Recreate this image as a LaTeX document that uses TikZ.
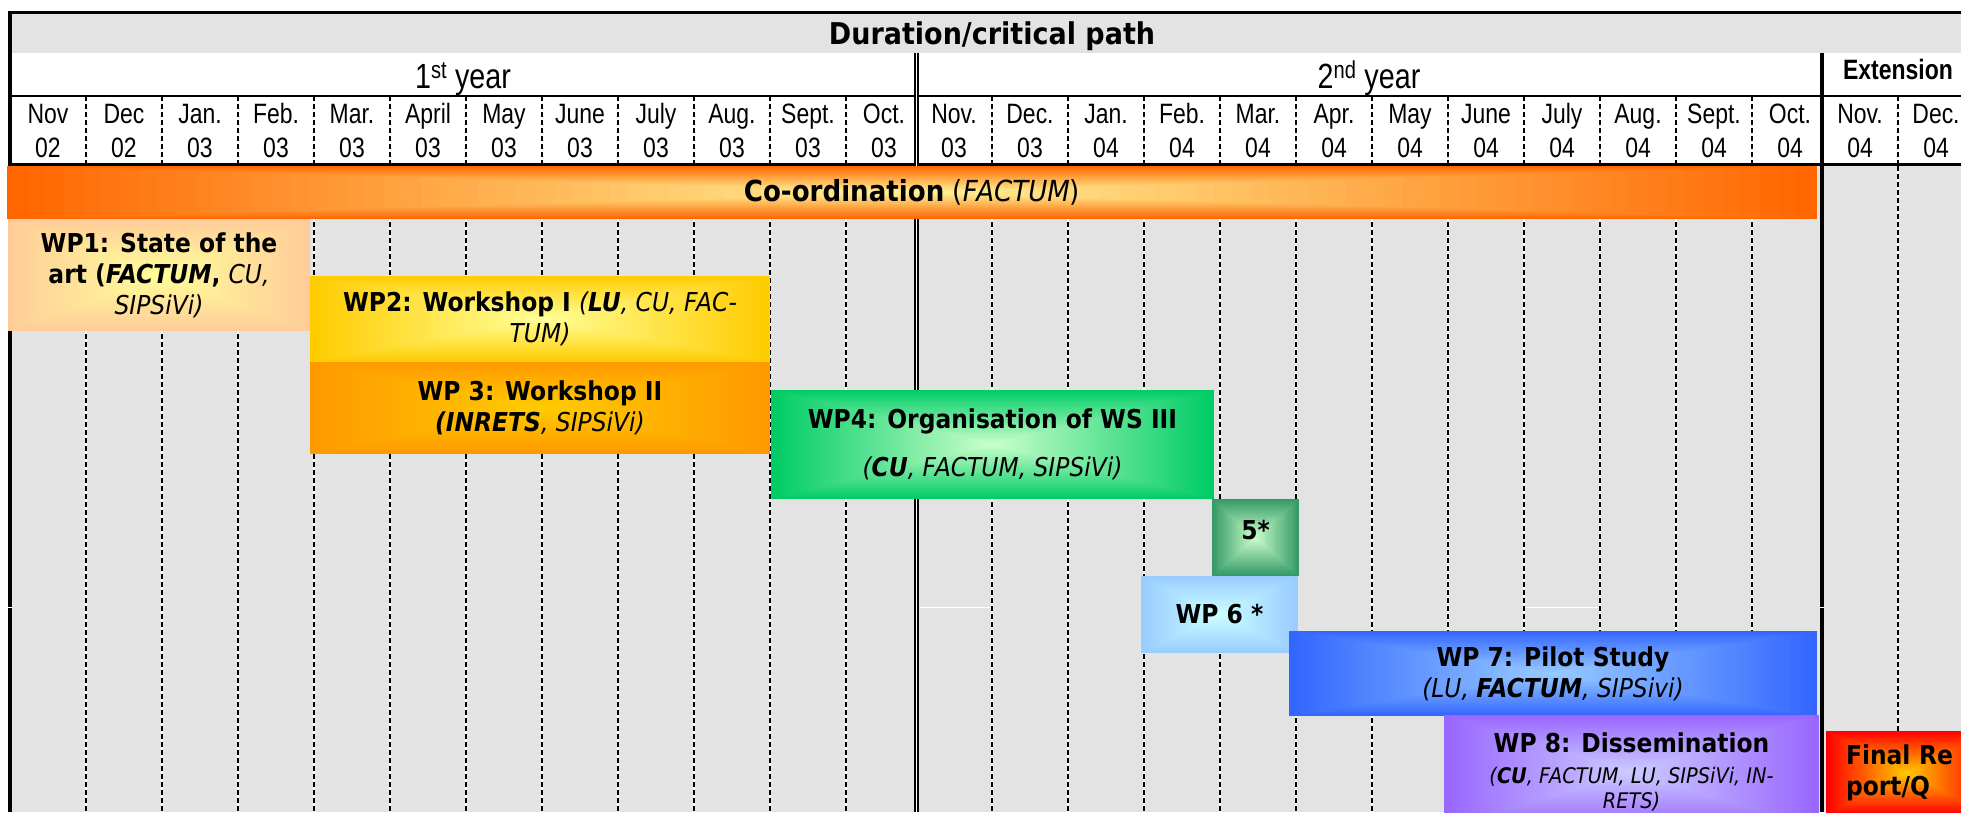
\documentclass[tikz,border=0pt]{standalone}
\usepackage{fontspec}
\newfontfamily\wpfont[FakeStretch=0.9,
  BoldFont={DejaVu Sans Bold},
  ItalicFont={DejaVu Sans Oblique},
  BoldItalicFont={DejaVu Sans Bold Oblique}]{DejaVu Sans}
\newfontfamily\narrowfont[FakeStretch=0.82]{Liberation Sans}
\usetikzlibrary{calc}

\definecolor{gridgray}{HTML}{E3E3E3}
\definecolor{coordout}{HTML}{FF6600}
\definecolor{coordin}{HTML}{FFF599}
\definecolor{peach}{HTML}{FFCC99}
\definecolor{paleyellow}{HTML}{FFFF99}
\definecolor{gold}{HTML}{FFCC00}
\definecolor{amber}{HTML}{FF9900}
\definecolor{wsgreen}{HTML}{00CC66}
\definecolor{mint}{HTML}{CCFFCC}
\definecolor{seagreen}{HTML}{339966}
\definecolor{skyblue}{HTML}{99CCFF}
\definecolor{paleblue}{HTML}{CCFFFF}
\definecolor{royalblue}{HTML}{3366FF}
\definecolor{violet}{HTML}{9966FF}
\definecolor{lavender}{HTML}{CCCCFF}
\definecolor{reportred}{HTML}{FF0000}

% partners: lead partner bold italic, others plain italic
\newcommand\wplead[1]{{\bfseries\itshape #1}}
\newcommand\wpteam[1]{{\mdseries\itshape #1}}

\tikzset{
  % rectangular gradient, outer colour at the edges, inner colour in the middle
  wpshade/.style 2 args={fill=#1, path picture={
      \foreach \i in {0,...,48}{
        \pgfmathsetmacro\s{1-\i/48}
        \pgfmathsetmacro\p{\i*100/48}
        \fill[#2!\p!#1]
          ($(path picture bounding box.center)!\s!(path picture bounding box.south west)$)
          rectangle
          ($(path picture bounding box.center)!\s!(path picture bounding box.north east)$);
      }}},
  wpbox/.style={inner sep=0pt, align=center, font=\wpfont\bfseries\fontsize{26}{31}\selectfont},
  monthlabel/.style={anchor=base, inner sep=0pt, font=\narrowfont\fontsize{28}{34}\selectfont},
  yearlabel/.style={anchor=base, inner sep=0pt, font=\narrowfont\fontsize{35}{40}\selectfont},
  monthline/.style={line width=2pt, dash pattern=on 5pt off 3pt},
}

\begin{document}
\begin{tikzpicture}[x=1pt,y=-1pt]
  \useasboundingbox (0,0) rectangle (1961,812);
  \clip (0,0) rectangle (1961,812);
  \fill[white] (0,0) rectangle (1961,812);

  % grey title band and chart area
  \fill[gridgray] (12,14) rectangle (1961,53);
  \fill[gridgray] (12,166) rectangle (1961,812);

  % month separators
  \foreach \x in {86,162,...,846,992,1068,...,1752,1898}{
    \draw[white, line width=2pt] (\x,166) -- (\x,812);
    \draw[monthline] (\x,96) -- (\x,163);
    \draw[monthline] (\x,166) -- (\x,812);
  }
  \draw[white, line width=1pt] (920,607) -- (991,607);
  \draw[white, line width=1pt] (1525,607) -- (1599,607);

  % frame
  \draw[line width=3pt] (8,12.5) -- (1961,12.5);
  \draw[line width=2pt] (12,96) -- (1961,96);
  \draw[line width=3pt] (8,164.5) -- (1961,164.5);
  \draw[line width=4pt] (10,11) -- (10,812);
  \draw[white, line width=5pt] (916.6,53) -- (916.6,812);
  \draw[line width=1.8pt] (915,53) -- (915,812);
  \draw[line width=1.8pt] (918.2,53) -- (918.2,812);
  \draw[line width=4pt] (1822,53) -- (1822,812);
  \draw[white, line width=1pt] (8,607) -- (12,607);
  \draw[white, line width=1pt] (1820,607) -- (1824,607);

  % header
  \node[anchor=base, inner sep=0pt, font=\wpfont\bfseries\fontsize{30}{36}\selectfont] (title) at (992,44) {Duration/critical path};
  \node[yearlabel] (year1) at (463,88) {1\textsuperscript{st} year};
  \node[yearlabel] (year2) at (1369,88) {2\textsuperscript{nd} year};
  \node[yearlabel, font=\narrowfont\bfseries\fontsize{28}{34}\selectfont] (ext) at (1898,79) {Extension};

  \foreach \m/\n [count=\k from 0] in {Nov/02,Dec/02,Jan./03,Feb./03,Mar./03,April/03,May/03,June/03,July/03,Aug./03,Sept./03,Oct./03}{
    \node[monthlabel] (ma\k) at (48+76*\k,123) {\m};
    \node[monthlabel] (mb\k) at (48+76*\k,157) {\n};
  }
  \foreach \m/\n [count=\k from 0] in {Nov./03,Dec./03,Jan./04,Feb./04,Mar./04,Apr./04,May/04,June/04,July/04,Aug./04,Sept./04,Oct./04}{
    \node[monthlabel] (mc\k) at (954+76*\k,123) {\m};
    \node[monthlabel] (md\k) at (954+76*\k,157) {\n};
  }
  \foreach \m/\n [count=\k from 0] in {Nov./04,Dec./04}{
    \node[monthlabel] (me\k) at (1860+76*\k,123) {\m};
    \node[monthlabel] (mf\k) at (1860+76*\k,157) {\n};
  }

  % work packages
  \node[wpbox, wpshade={coordout}{coordin}, minimum width=1810pt, minimum height=53pt,
    font=\wpfont\fontsize{29}{34}\selectfont] (coord) at (912,192.5)
    {\textbf{Co-ordination} (\textit{FACTUM})};

  \node[wpbox, wpshade={peach}{paleyellow}, minimum width=302pt, minimum height=112pt] (wp1) at (159,275)
    {WP1: State of the\\art (\wplead{FACTUM}, \wpteam{CU,}\\\wpteam{SIPSiVi)}};
  \node[wpbox, wpshade={gold}{paleyellow}, minimum width=460pt, minimum height=86pt] (wp2) at (540,319)
    {WP2: Workshop I \wpteam{(\wplead{LU}, CU, FAC-}\\\wpteam{TUM)}};
  \node[wpbox, wpshade={amber}{gold}, minimum width=460pt, minimum height=92pt] (wp3) at (540,408)
    {WP 3: Workshop II\\\wplead{(INRETS}\wpteam{, SIPSiVi)}};
  \node[wpbox, wpshade={wsgreen}{mint}, minimum width=443pt, minimum height=109pt] (wp4) at (992.5,444.5)
    {WP4: Organisation of WS III\\[17pt]\wpteam{(\wplead{CU}, FACTUM, SIPSiVi)}};
  \node[wpbox, wpshade={seagreen}{mint}, minimum width=87pt, minimum height=77pt] (wp5) at (1255.5,537.5)
    {\raisebox{-2pt}[0pt][0pt]{5*}};
  \node[wpbox, wpshade={skyblue}{paleblue}, minimum width=157pt, minimum height=77pt] (wp6) at (1219.5,614.5)
    {WP 6 *};
  \node[wpbox, wpshade={royalblue}{skyblue}, minimum width=528pt, minimum height=85pt] (wp7) at (1553,673.5)
    {WP 7: Pilot Study\\\wpteam{(LU, \wplead{FACTUM}, SIPSivi)}};
  \node[wpbox, wpshade={violet}{lavender}, minimum width=375pt, minimum height=114pt] (wp8) at (1631.5,772)
    {WP 8: Dissemination\\{\fontsize{21.5}{25}\selectfont\wpteam{(\wplead{CU}, FACTUM, LU, SIPSiVi, IN-}}\\[-6pt]{\fontsize{21.5}{25}\selectfont\wpteam{RETS)}}};
  \node[wpbox, wpshade={reportred}{gold}, minimum width=162pt, minimum height=84pt,
    text width=122pt, align=left] (final) at (1907,773)
    {Final Re\\port/Q};
\end{tikzpicture}
\end{document}
